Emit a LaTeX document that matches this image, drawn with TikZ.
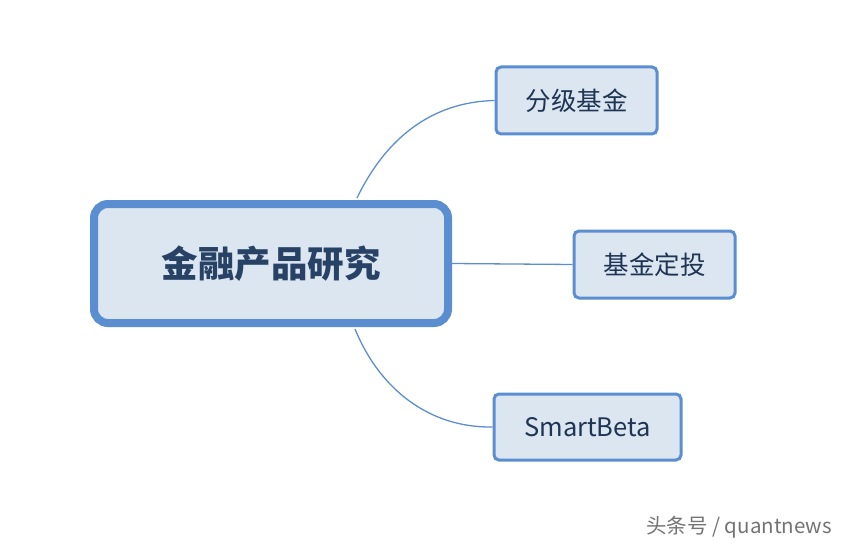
\documentclass[tikz,border=0pt]{standalone}
\usepackage{fontspec}
\setmainfont{Noto Sans CJK SC}
\begin{document}
\begin{tikzpicture}[x=1pt,y=-1pt,
  sub/.style={draw=bord,fill=fillc,line width=3pt,rounded corners=5pt,text=txt,font=\fontsize{25.5}{28}\selectfont,inner sep=0pt},
  link/.style={draw=bord,line width=1.3pt}]
\definecolor{bord}{HTML}{5B8ED0}
\definecolor{fillc}{HTML}{DCE6F1}
\definecolor{txt}{HTML}{1F3553}
\useasboundingbox (0,0) rectangle (848,548);
\node[draw=bord,fill=fillc,line width=8pt,rounded corners=14pt,minimum width=354pt,minimum height=119pt,text=txt!85!bord,font=\bfseries\fontsize{36.5}{40}\selectfont] (c) at (271,263.5) {金融产品研究};
\node[sub,minimum width=161pt,minimum height=67pt] (a) at (576.5,100.5) {分级基金};
\node[sub,minimum width=161pt,minimum height=67pt] (b) at (654.5,264.5) {基金定投};
\node[sub,minimum width=187pt,minimum height=66pt] (d) at (587.5,427) {SmartBeta};
\coordinate (c1) at (357,198);
\coordinate (c3) at (355,329);
\draw[link] (c1) .. controls (385,140) and (430,102) .. (a.west);
\draw[link] (c.east) -- (b.west);
\draw[link] (c3) .. controls (380,390) and (430,428) .. (d.west);
\node[text=black!55,font=\fontsize{20.5}{24}\selectfont] (w) at (739,527) {头条号 / quantnews};
\end{tikzpicture}
\end{document}
